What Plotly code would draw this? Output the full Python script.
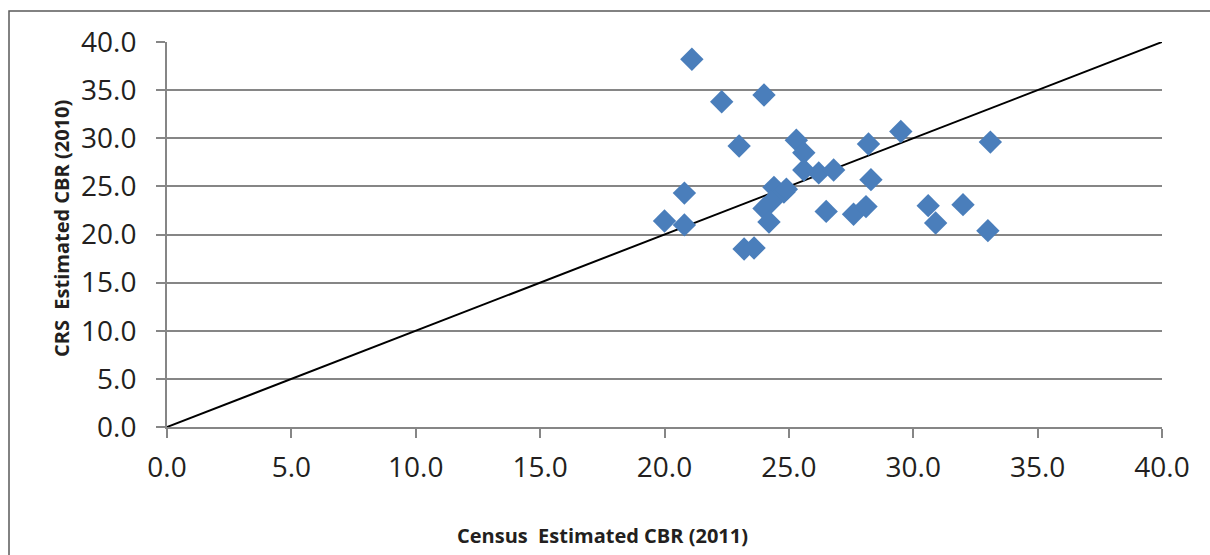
import plotly.graph_objects as go

# Crude birth rate estimates by state: census (2011) vs CRS (2010)
census_cbr = [21.1, 22.3, 24.0, 23.0, 25.3, 25.6, 25.6, 26.2, 26.8, 28.2,
              29.5, 33.1, 28.3, 20.8, 20.0, 20.8, 24.4, 24.8, 24.9, 24.0,
              24.3, 24.2, 23.2, 23.6, 26.5, 27.6, 28.1, 30.6, 30.9, 32.0,
              33.0]
crs_cbr = [38.2, 33.8, 34.5, 29.2, 29.8, 28.5, 26.7, 26.4, 26.7, 29.4,
           30.7, 29.6, 25.7, 24.3, 21.4, 21.0, 24.9, 24.4, 24.7, 22.7,
           23.4, 21.3, 18.5, 18.6, 22.4, 22.1, 22.9, 23.0, 21.2, 23.1,
           20.4]

# Line of equality
ref_line = [0.0, 40.0]

tick_vals = [0, 5, 10, 15, 20, 25, 30, 35, 40]
tick_text = ["0.0", "5.0", "10.0", "15.0", "20.0", "25.0", "30.0", "35.0", "40.0"]

W, H = 1210, 555
ML, MR, MT, MB = 167, 48, 42, 128
PW, PH = W - ML - MR, H - MT - MB

def px_to_paper_x(px):
    return (px - ML) / PW

def px_to_paper_y(py):
    return (H - MB - py) / PH

GRID = "#868686"
TXT = "#231F20"
FONT = "Open Sans"

fig = go.Figure()
fig.add_trace(go.Scatter(
    x=ref_line, y=ref_line, mode="lines",
    line=dict(color="black", width=2), hoverinfo="skip", showlegend=False,
))
fig.add_trace(go.Scatter(
    x=census_cbr, y=crs_cbr, mode="markers",
    marker=dict(symbol="diamond", size=18, color="#4A7EBB", line=dict(width=0)),
    showlegend=False,
))

axis_common = dict(
    range=[0, 40], tickvals=tick_vals, ticktext=tick_text,
    showline=True, linecolor=GRID, linewidth=2,
    ticks="outside", tickcolor=GRID, tickwidth=2, ticklen=9,
    tickfont=dict(family=FONT, size=28, color=TXT),
    zeroline=False, fixedrange=True,
)
fig.update_xaxes(showgrid=False, ticklabelstandoff=5, **axis_common)
fig.update_yaxes(showgrid=True, gridcolor=GRID, gridwidth=2,
                 ticklabelstandoff=14, **axis_common)

# Outer chart-area frame (runs off the right and bottom edges)
fig.add_shape(type="rect", xref="paper", yref="paper",
              x0=px_to_paper_x(9), x1=px_to_paper_x(W + 20),
              y0=px_to_paper_y(H + 20), y1=px_to_paper_y(11),
              line=dict(color="#5a5a5a", width=1.5), fillcolor="rgba(0,0,0,0)",
              layer="below")

fig.add_annotation(text="<b>Census  Estimated CBR (2011)</b>",
                   xref="paper", yref="paper",
                   x=px_to_paper_x(602), y=px_to_paper_y(535),
                   showarrow=False, xanchor="center", yanchor="middle",
                   font=dict(family=FONT, size=20, color=TXT))
fig.add_annotation(text="<b>CRS  Estimated CBR (2010)</b>",
                   xref="paper", yref="paper",
                   x=px_to_paper_x(61), y=px_to_paper_y(229),
                   showarrow=False, textangle=-90,
                   xanchor="center", yanchor="middle",
                   font=dict(family=FONT, size=20, color=TXT))

fig.update_layout(
    width=W, height=H,
    margin=dict(l=ML, r=MR, t=MT, b=MB),
    paper_bgcolor="white", plot_bgcolor="white",
)

fig.write_html("out.html")
